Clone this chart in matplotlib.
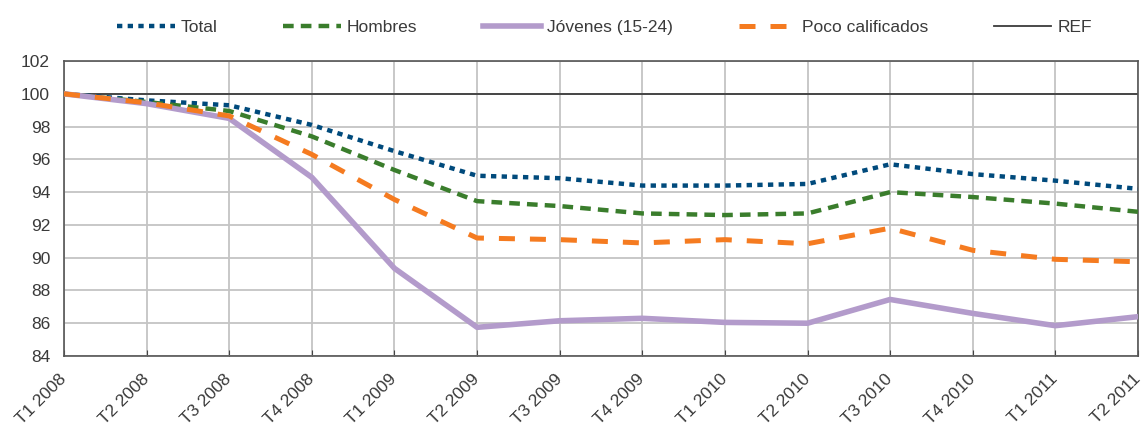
import numpy as np
import matplotlib
matplotlib.use('Agg')
import matplotlib.pyplot as plt

plt.rcParams['font.family'] = ['Liberation Sans', 'DejaVu Sans']

# Data
quarters = ['T1 2008', 'T2 2008', 'T3 2008', 'T4 2008',
            'T1 2009', 'T2 2009', 'T3 2009', 'T4 2009',
            'T1 2010', 'T2 2010', 'T3 2010', 'T4 2010',
            'T1 2011', 'T2 2011']
total = [100, 99.6, 99.3, 98.1, 96.5, 95.0, 94.85, 94.4, 94.4, 94.5, 95.7, 95.1, 94.7, 94.2]
hombres = [100, 99.5, 98.95, 97.4, 95.35, 93.45, 93.15, 92.7, 92.6, 92.7, 94.0, 93.7, 93.3, 92.8]
jovenes = [100, 99.4, 98.5, 94.9, 89.35, 85.75, 86.15, 86.3, 86.05, 86.0, 87.45, 86.6, 85.85, 86.4]
poco_calificados = [100, 99.45, 98.65, 96.3, 93.55, 91.2, 91.1, 90.9, 91.1, 90.85, 91.8, 90.45, 89.9, 89.75]
ref = [100] * len(quarters)

x = np.arange(len(quarters))
text_color = '#3a3a3a'

fig = plt.figure(figsize=(11.43, 4.36), dpi=100)
ax = fig.add_axes([0.056, 0.1835, 0.9396, 0.6765])

ax.plot(x, ref, color='#3c3c3c', lw=1.3, label='REF', zorder=2)
ax.plot(x, total, color='#004a7c', lw=3.2, dashes=(1.2, 1.2), dash_capstyle='butt', label='Total', zorder=3)
ax.plot(x, hombres, color='#3a7d2c', lw=3.2, dashes=(2.4, 1.6), dash_capstyle='butt', label='Hombres', zorder=3)
ax.plot(x, jovenes, color='#b39bcb', lw=4, label='Jóvenes (15-24)', zorder=3)
ax.plot(x, poco_calificados, color='#f57b20', lw=3.6, dashes=(3.2, 3.0), dash_capstyle='butt', label='Poco calificados', zorder=3)

ax.set_xlim(0, len(quarters) - 1)
ax.set_ylim(84, 102)
ax.set_yticks(np.arange(84, 103, 2))
ax.set_xticks(x)
ax.set_xticklabels(quarters, rotation=45, ha='right', va='center', rotation_mode='anchor')
ax.grid(True, color='#c4c4c4', lw=1.3, zorder=0)
ax.set_axisbelow(True)
for s in ax.spines.values():
    s.set_color('#555555')
    s.set_linewidth(1.2)
ax.tick_params(axis='x', direction='in', length=4, color='#444444', labelsize=12.5,
               labelcolor=text_color, pad=15)
ax.tick_params(axis='y', length=0, labelsize=12.5, labelcolor=text_color, pad=10)

handles, labels = ax.get_legend_handles_labels()
order = [1, 2, 3, 4, 0]
fig.legend([handles[i] for i in order], [labels[i] for i in order],
           loc='upper center', bbox_to_anchor=(0.529, 0.99), ncol=5, frameon=False,
           fontsize=12.5, labelcolor=text_color, handlelength=3.3,
           columnspacing=3.8, handletextpad=0.35)

plt.savefig('out.png', dpi=100)
